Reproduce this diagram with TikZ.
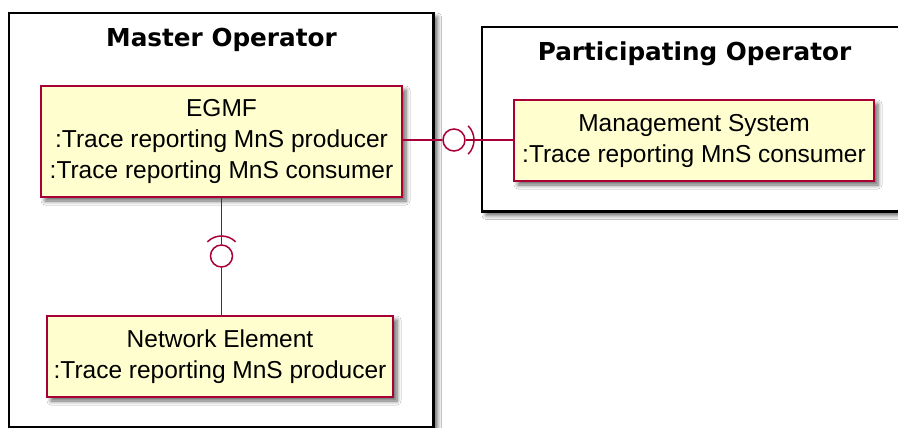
\documentclass[tikz,border=0pt]{standalone}
\usepackage{fontspec}
\setmainfont{Liberation Sans}
\newfontfamily\titlefont{DejaVu Sans}
\usetikzlibrary{shadows.blur}
\definecolor{crim}{HTML}{A80036}
\definecolor{boxfill}{HTML}{FEFECE}
\begin{document}
\begin{tikzpicture}[x=1pt,y=-1pt,
  frame/.style={draw=black, line width=2.5pt, fill=white, rectangle, inner sep=0pt,
    blur shadow={shadow xshift=4pt, shadow yshift=-4pt, shadow blur steps=6, shadow blur radius=4pt, shadow opacity=60}},
  comp/.style={draw=crim, line width=1.5pt, fill=boxfill, rectangle, inner sep=0pt, align=center,
    font=\fontsize{24.5}{31}\selectfont,
    blur shadow={shadow xshift=4pt, shadow yshift=-4pt, shadow blur steps=6, shadow blur radius=4pt, shadow opacity=60}},
  ttl/.style={font=\titlefont\bfseries\fontsize{24.7}{28}\selectfont, anchor=base, inner sep=0pt},
  ball/.style={circle, draw=crim, line width=1.5pt, fill=white, minimum size=22pt, inner sep=0pt},
  conn/.style={draw=crim, line width=1.5pt}]
\useasboundingbox (0,0) rectangle (898,428);
\clip (0,0) rectangle (898,428);
\fill[white] (0,0) rectangle (898,428);
% frames
\node[frame, minimum width=424.5pt, minimum height=414pt] (master) at (221.25,220) {};
\node[frame, minimum width=423pt, minimum height=184.5pt] (part) at (693.5,119.25) {};
\node[ttl] (mtitle) at (221.5,47) {Master Operator};
\node[ttl] (ptitle) at (694.5,61) {Participating Operator};
% components
\node[comp, minimum width=361pt, minimum height=111pt] (egmf) at (221.5,141.5)
  {EGMF\\:Trace reporting MnS producer\\:Trace reporting MnS consumer};
\node[comp, minimum width=346pt, minimum height=81pt] (ne) at (220,356.5)
  {Network Element\\:Trace reporting MnS producer};
\node[comp, minimum width=360pt, minimum height=81pt] (ms) at (694,140.5)
  {Management System\\:Trace reporting MnS consumer};
% interfaces
\node[ball] (ballH) at (454,140) {};
\node[ball] (ballV) at (221.5,256) {};
\draw[conn] (egmf.east |- ballH) -- (ballH.west);
\draw[conn] (ms.west |- ballH) -- (ballH.east);
\draw[conn] (ballH.center) ++(-45:20) arc[start angle=-45, end angle=45, radius=20];
\draw[conn] (egmf.south -| ballV) -- (ballV.north);
\draw[conn] (ballV.south) -- (ballV.south |- ne.north);
\draw[conn] (ballV.center) ++(-135:20) arc[start angle=-135, end angle=-45, radius=20];
\end{tikzpicture}
\end{document}
